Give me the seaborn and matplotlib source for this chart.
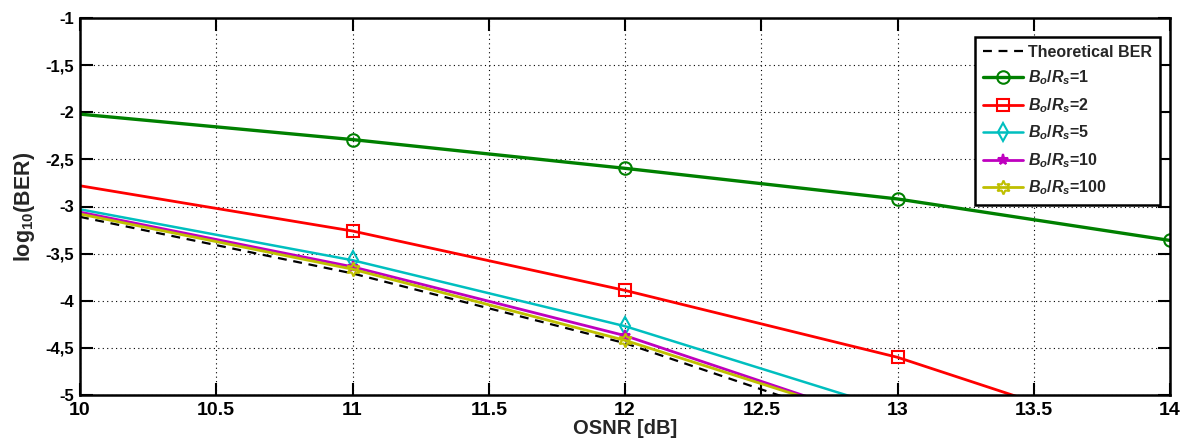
import numpy as np
import pandas as pd
import matplotlib
matplotlib.use("Agg")
import matplotlib.pyplot as plt
import seaborn as sns
from matplotlib.ticker import FixedLocator, FuncFormatter

# ---- data ----
osnr = [10, 11, 12, 13, 14]
ber_theory = [-3.11, -3.71, -4.45, -5.43, -6.4]
ber_r1 = [-2.02, -2.29, -2.595, -2.92, -3.36]
ber_r2 = [-2.78, -3.26, -3.89, -4.60, -5.55]
ber_r5 = [-3.03, -3.57, -4.27, -5.17, -6.1]
ber_r10 = [-3.06, -3.64, -4.37, -5.34, -6.3]
ber_r100 = [-3.08, -3.665, -4.42, -5.34, -6.3]
labels = ["Theoretical BER", r"$B_o/R_s$=1", r"$B_o/R_s$=2", r"$B_o/R_s$=5",
          r"$B_o/R_s$=10", r"$B_o/R_s$=100"]
xticks = [10, 10.5, 11, 11.5, 12, 12.5, 13, 13.5, 14]
yticks = [-5, -4.5, -4, -3.5, -3, -2.5, -2, -1.5, -1]

sns.set_theme(style="white")
plt.rcParams["font.family"] = ["Liberation Sans", "DejaVu Sans"]
plt.rcParams["font.weight"] = "bold"
plt.rcParams["mathtext.fontset"] = "custom"
plt.rcParams["mathtext.it"] = "Liberation Sans:italic:bold"
plt.rcParams["mathtext.rm"] = "Liberation Sans:bold"

fig = plt.figure(figsize=(11.86, 4.43), dpi=100)
ax = fig.add_axes([80 / 1186, 1 - 395 / 443, 1090 / 1186, 377 / 443])

styles = [
    dict(y=ber_theory, color="black", ls=(0, (4, 3)), lw=1.6, marker=None),
    dict(y=ber_r1, color="#008000", ls="-", lw=2.4, marker="o", ms=9),
    dict(y=ber_r2, color="#ff0000", ls="-", lw=2.0, marker="s", ms=9),
    dict(y=ber_r5, color="#00bfbf", ls="-", lw=1.8, marker="d", ms=9),
    dict(y=ber_r10, color="#bf00bf", ls="-", lw=2.0, marker="*", ms=8),
    dict(y=ber_r100, color="#bfbf00", ls="-", lw=2.0, marker=(6, 1, 0), ms=10),
]
for st, lab in zip(styles, labels):
    kw = dict(x=osnr, y=st["y"], ax=ax, color=st["color"], linestyle=st["ls"],
              linewidth=st["lw"], label=lab, sort=False)
    if st["marker"] is not None:
        filled = st["marker"] == "*"
        kw.update(marker=st["marker"], markersize=st["ms"], markevery=[1, 2, 3, 4],
                  markeredgecolor=st["color"], markeredgewidth=1.5,
                  markerfacecolor=st["color"] if filled else "none")
    sns.lineplot(**kw)

ax.set_xlim(10, 14)
ax.set_ylim(-5, -1)
ax.xaxis.set_major_locator(FixedLocator(xticks))
ax.yaxis.set_major_locator(FixedLocator(yticks))
ax.xaxis.set_major_formatter(FuncFormatter(lambda v, p: f"{v:g}"))
ax.yaxis.set_major_formatter(FuncFormatter(lambda v, p: f"{v:g}".replace(".", ",")))
ax.tick_params(direction="in", length=9, width=1.5, top=True, right=True,
               bottom=True, left=True, labelsize=12, pad=4, colors="black")
ax.tick_params(axis="x", labelsize=14, pad=5)
for lbl in ax.get_xticklabels() + ax.get_yticklabels():
    lbl.set_fontweight("bold")
ax.grid(True, color="black", linestyle=(0, (1, 3)), linewidth=0.8)
for s in ax.spines.values():
    s.set_color("black")
    s.set_linewidth(1.8)
ax.set_xlabel("OSNR [dB]", fontsize=14.5, fontweight="bold", labelpad=0)
ax.set_ylabel(r"log$_{10}$(BER)", fontsize=15.5, fontweight="bold", labelpad=6)

leg = ax.legend(loc="upper right", bbox_to_anchor=(0.991, 0.9496), borderaxespad=0,
                fontsize=11.5, frameon=True, fancybox=False, framealpha=1,
                edgecolor="black", handlelength=2.5, borderpad=0.5,
                labelspacing=0.55, handletextpad=0.3)
leg.get_frame().set_linewidth(1.8)
for t in leg.get_texts():
    t.set_fontweight("bold")

fig.savefig("out.png", dpi=100)
